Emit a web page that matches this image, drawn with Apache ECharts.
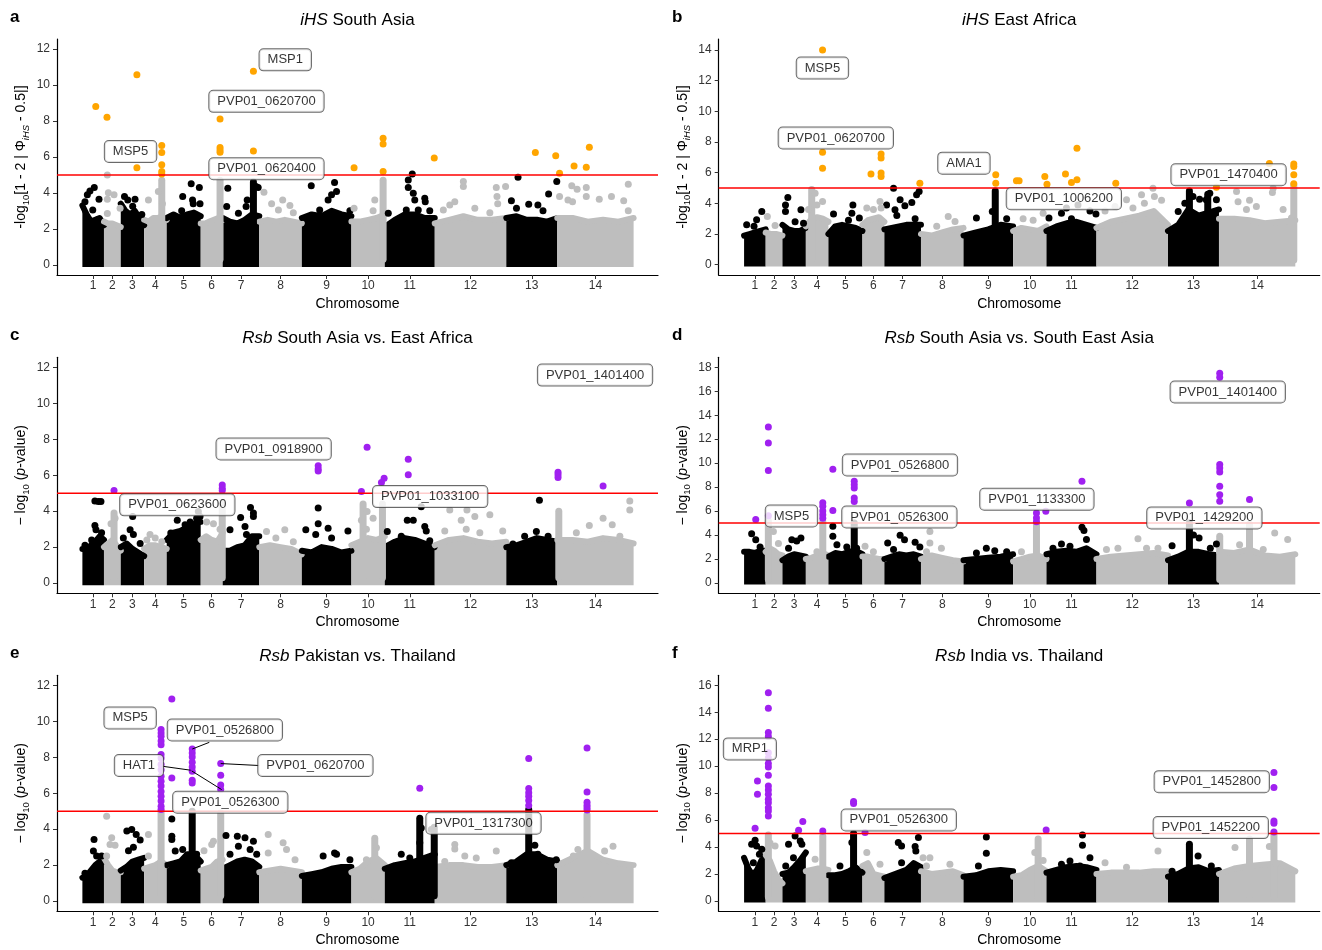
<!DOCTYPE html>
<html>
<head>
<meta charset="utf-8">
<title>Manhattan plots iHS / Rsb</title>
<script src="https://cdn.jsdelivr.net/npm/echarts@6.0.0/dist/echarts.min.js"></script>
<style>
  html, body { margin: 0; background: #fff; }
  #chart { width: 1322px; height: 950px; }
</style>
</head>
<body>
<div id="chart"></div>
<script>
// chromosome sizes in Mb
var chromNames = ['1','2','3','4','5','6','7','8','9','10','11','12','13','14'];
var chromLen = [1.08,0.84,1.17,1.13,1.70,1.10,1.83,2.13,2.48,1.67,2.50,3.58,2.55,3.82];

var ticks12 = [0,2,4,6,8,10,12];
var ticks14 = [0,2,4,6,8,10,12,14];
var ticks16 = [0,2,4,6,8,10,12,14,16];
var ticks18 = [0,2,4,6,8,10,12,14,16,18];

// bg* : top of the dense cloud, evenly spaced along each chromosome
// dots* : sparse points above the cloud [chr, fraction along chr, value]
// spikes* : tall narrow stacks of points [chr, fraction, top]
// hits* : points over the threshold [chr, fraction, value]
// labels* : gene labels [text, position Mb, value]

// ---- a: iHS South Asia
var bgA = [
  [3.3,2.8,2.4,2.5,2.6,2.2],[2.4,2.3,2.3,2.2,2.1],[3.4,3.0,2.8,3.0,2.6,2.2],[2.5,2.4,2.6,2.6,2.7,2.5],
  [2.6,2.8,2.6,2.8,2.9,2.7],[2.3,2.3,2.4,2.5,2.6,2.5],[2.6,2.4,2.3,2.5,2.8,2.7],[2.4,2.5,2.4,2.5,2.4,2.3],
  [2.6,2.8,2.7,3.0,2.8,2.7],[2.4,2.4,2.5,2.6,2.8],[2.1,2.5,2.8,2.8,2.6,2.6],[2.3,2.5,2.7,2.5,2.5,2.6],
  [2.6,2.7,2.5,2.5,2.4,2.6],[2.6,2.6,2.4,2.5,2.4,2.6]
];
var dotsA = [
  [1,0.12,3.5],[1,0.23,3.9],[1,0.35,4.1],[1,0.55,4.3],[1,0.77,3.65],[1,0.48,3.05],[1,0.71,2.5],
  [2,0.2,5.0],[2,0.26,4.0],[2,0.2,3.65],[2,0.6,3.9],[2,0.2,2.85],[2,0.96,3.15],
  [3,0.16,3.8],[3,0.3,3.6],[3,0.61,3.65],[3,0.51,3.25],[3,0.9,2.8],
  [4,0.19,3.6],[4,0.63,4.07],[4,0.81,3.4],
  [5,0.47,3.8],[5,0.72,4.5],[5,0.96,4.3],[5,0.76,3.6],[5,0.78,3.4],[5,0.98,3.4],[5,0.44,3.0],
  [7,0.14,4.26],[7,0.11,3.24],[7,0.43,2.87],[7,0.64,3.24],[7,0.67,3.6],[7,0.91,4.35],[7,0.97,4.3],
  [8,0.11,4.04],[8,0.29,3.4],[8,0.55,3.6],[8,0.45,3.05],[8,0.72,3.3],[8,0.8,2.9],
  [9,0.19,4.4],[9,0.66,4.57],[9,0.7,4.07],[9,0.6,3.9],[9,0.36,3.05],[9,0.53,3.6],[9,0.97,3.0],
  [10,0.08,3.15],[10,0.7,3.6],[10,0.65,3.0],
  [11,0.07,2.87],[11,0.47,4.72],[11,0.47,4.3],[11,0.55,5.05],[11,0.57,3.98],[11,0.6,3.6],[11,0.8,3.7],
  [11,0.81,3.5],[11,0.67,3.05],[11,0.43,3.05],[11,0.9,3.0],
  [12,0.12,3.05],[12,0.21,3.33],[12,0.28,3.5],[12,0.4,4.63],[12,0.4,4.35],[12,0.56,3.15],[12,0.86,4.3],
  [12,0.87,3.8],[12,0.88,3.4],[12,0.99,4.35],[12,0.77,2.9],
  [13,0.23,4.87],[13,0.1,3.56],[13,0.2,3.15],[13,0.44,3.37],[13,0.62,3.33],[13,0.83,3.94],[13,0.99,4.63],[13,0.72,3.0],
  [14,0.03,3.8],[14,0.19,4.4],[14,0.26,4.2],[14,0.14,3.6],[14,0.2,3.5],[14,0.38,4.3],[14,0.38,3.8],
  [14,0.55,3.65],[14,0.71,3.8],[14,0.87,3.56],[14,0.93,4.48],[14,0.93,3.0]
];
var spikesA = [[4,0.78,4.7],[6,0.88,4.7],[7,0.84,4.6],[10,0.95,4.7]];
var hitsA = [
  [1,0.62,8.8],[2,0.18,8.2],[3,0.69,10.57],[3,0.69,5.4],
  [4,0.78,6.63],[4,0.78,6.24],[4,0.78,5.56],[4,0.78,5.19],[4,0.78,5.05],
  [6,0.88,8.11],[6,0.88,6.52],[6,0.88,6.39],[6,0.88,6.26],
  [7,0.84,10.76],[7,0.84,6.33],
  [10,0.08,5.4],[10,0.95,7.04],[10,0.95,6.72],[10,0.95,5.19],[11,0.99,5.94],
  [13,0.57,6.24],[13,0.97,6.06],[14,0.03,5.09],[14,0.22,5.5],[14,0.38,5.43],[14,0.42,6.54]
];
var labelsA = [['MSP1',10.15,11.4],['PVP01_0620700',9.21,9.09],['MSP5',2.41,6.3],['PVP01_0620400',9.21,5.34]];

// ---- b: iHS East Africa
var bgB = [
  [1.9,2.0,2.1,2.2,2.3],[2.1,2.0,2.0,1.9],[2.6,2.3,2.2,2.2,2.4],[2.5,3.0,3.1,3.0,2.8],
  [2.0,2.5,2.6,2.5,2.4,2.2],[2.6,2.9,3.0,3.1,2.8],[2.3,2.4,2.5,2.6,2.6,2.6],[2.0,1.9,2.1,2.3,2.4],
  [1.9,2.1,2.3,2.6,2.5],[2.2,2.4,2.3,2.2,2.5],[2.2,2.5,2.7,2.8,2.6,2.4],[2.4,2.8,3.0,3.2,3.5,2.6],
  [2.2,2.6,3.6,3.2,3.4,3.6],[3.0,3.0,2.9,2.7,2.8,2.9]
];
var dotsB = [
  [1,0.12,2.6],[1,0.58,2.93],[1,0.82,3.47],[1,0.46,2.5],
  [2,0.1,3.15],[2,0.56,2.56],
  [3,0.13,3.9],[3,0.23,4.38],[3,0.13,3.47],[3,0.79,3.58],[3,0.54,2.8],[3,0.9,2.7],
  [4,0.41,4.66],[4,0.74,4.12],[4,0.49,3.9],[4,0.12,3.6],
  [5,0.15,3.3],[5,0.72,3.9],[5,0.69,3.36],[5,0.91,3.04],[5,0.59,2.9],
  [6,0.2,3.7],[6,0.5,3.6],[6,0.8,4.12],[6,0.85,3.7],
  [7,0.06,3.9],[7,0.25,4.99],[7,0.29,3.58],[7,0.43,4.23],[7,0.56,3.84],[7,0.75,4.06],[7,0.88,4.56],
  [7,0.95,4.77],[7,0.34,3.2],[7,0.84,3.0],
  [8,0.64,3.15],[8,0.8,2.82],[8,0.37,2.5],
  [9,0.58,3.47],[9,0.26,3.04],[9,0.87,3.0],
  [10,0.3,3.0],[10,0.6,2.9],[10,0.9,3.36],
  [11,0.05,3.04],[11,0.3,3.36],[11,0.4,3.7],[11,0.63,3.9],[11,0.87,3.5],[11,0.99,3.3],[11,0.5,3.0],
  [12,0.12,3.5],[12,0.26,3.8],[12,0.42,4.23],[12,0.63,4.56],[12,0.67,4.0],[12,0.79,4.99],[12,0.81,4.45],
  [12,0.91,4.2],[12,0.51,3.7],
  [13,0.2,3.47],[13,0.33,4.0],[13,0.49,4.45],[13,0.62,4.27],[13,0.75,4.23],[13,0.82,4.66],[13,0.95,4.23],
  [14,0.23,4.77],[14,0.25,4.1],[14,0.4,4.2],[14,0.49,3.8],[14,0.7,4.7],[14,0.71,4.99],[14,0.84,3.6],
  [14,0.95,3.04],[14,0.36,3.6]
];
var spikesB = [[4,0.26,4.9],[9,0.64,4.8],[13,0.42,4.8],[13,0.78,4.6],[14,0.98,5.2]];
var hitsB = [
  [4,0.74,13.99],[4,0.74,7.33],[4,0.74,6.29],
  [6,0.39,5.92],[6,0.85,7.22],[6,0.85,6.96],[6,0.85,5.97],[6,0.85,5.75],
  [7,0.97,5.31],[9,0.65,5.86],[9,0.65,5.31],
  [10,0.1,5.47],[10,0.18,5.47],[10,0.95,5.75],[11,0.01,5.25],
  [11,0.38,5.92],[11,0.5,5.36],[11,0.61,7.59],[11,0.61,5.53],
  [12,0.27,5.31],[13,0.95,5.05],
  [14,0.66,6.6],[14,0.98,6.57],[14,0.98,6.4],[14,0.98,5.86],[14,0.98,5.27]
];
var labelsB = [['MSP5',3.92,12.82],['PVP01_0620700',4.59,8.26],['AMA1',11.0,6.62],['PVP01_1006200',16.0,4.3],['PVP01_1470400',24.24,5.86]];

// ---- c: Rsb South Asia vs. East Africa
var bgC = [
  [1.9,1.9,2.1,2.3,2.6,2.4],[2.0,2.2,2.4,2.1,1.8],[2.0,2.2,1.9,1.7,1.5],[1.9,2.1,2.1,2.0,1.9],
  [2.4,2.8,2.9,3.1,3.3,3.4],[2.4,2.6,2.4,2.3,2.8],[1.8,1.8,2.0,2.1,2.6,2.6],[2.0,2.1,2.0,1.9,1.6],
  [1.8,1.7,2.0,1.9,1.7,1.8],[2.1,2.3,2.5,2.4,2.6],[2.0,2.3,2.5,2.4,2.2,2.0],[2.1,2.4,2.5,2.3,2.2,2.3],
  [2.0,2.1,2.3,2.5,2.4,2.3],[2.4,2.4,2.3,2.5,2.4,2.2]
];
var dotsC = [
  [1,0.58,4.57],[1,0.74,4.54],[1,0.86,4.54],[1,0.58,3.2],[1,0.63,2.96],[1,0.43,2.4],[1,0.12,2.1],[1,0.89,2.8],
  [2,0.42,3.3],[2,0.66,3.6],
  [3,0.11,2.5],[3,0.4,2.96],[3,0.54,2.7],[3,0.83,2.2],[3,0.51,3.7],
  [4,0.26,2.7],[4,0.49,2.5],[4,0.12,2.4],[4,0.78,2.3],
  [5,0.12,2.78],[5,0.31,3.5],[5,0.54,3.24],[5,0.69,3.4],[5,0.88,3.6],[5,0.98,3.7],[5,0.93,3.98],
  [6,0.27,3.4],[6,0.58,3.3],[6,0.88,3.0],
  [7,0.2,2.96],[7,0.49,3.65],[7,0.61,3.15],[7,0.76,4.2],[7,0.84,3.9],[7,0.84,3.7],[7,0.65,2.7],
  [8,0.17,2.87],[8,0.39,2.5],[8,0.6,2.96],[8,0.8,2.3],
  [9,0.33,4.17],[9,0.33,3.3],[9,0.08,2.96],[9,0.28,2.7],[9,0.53,3.05],[9,0.6,2.5],[9,0.93,2.9],
  [10,0.47,3.98],[10,0.3,3.5],[10,0.65,3.6],[10,0.45,3.0],
  [11,0.05,2.87],[11,0.45,3.5],[11,0.57,3.5],[11,0.8,3.15],[11,0.83,2.9],[11,0.9,2.35],[11,0.33,2.6],[11,0.73,4.25],
  [12,0.21,4.07],[12,0.37,3.5],[12,0.45,4.07],[12,0.56,3.7],[12,0.77,3.8],[12,0.44,3.0],[12,0.63,2.8],
  [12,0.95,2.9],[12,0.14,2.9],
  [13,0.65,4.6],[13,0.59,2.87],[13,0.36,2.6],[13,0.13,2.17],[13,0.82,2.6],
  [14,0.25,2.8],[14,0.42,3.2],[14,0.6,3.6],[14,0.72,3.24],[14,0.95,4.57],[14,0.95,4.07],[14,0.82,2.6]
];
var spikesC = [[2,0.6,3.9],[6,0.98,4.5],[10,0.35,4.4],[10,0.93,4.4],[14,0.02,4.0]];
var hitsC = [
  [2,0.6,5.15],[6,0.98,5.46],[6,0.98,5.28],[6,0.98,5.15],
  [9,0.33,6.52],[9,0.33,6.35],[9,0.33,6.24],
  [10,0.3,5.09],[10,0.47,7.55],[10,0.9,5.6],[10,0.98,5.83],
  [11,0.47,6.89],[11,0.47,6.02],
  [14,0.01,6.17],[14,0.01,6.02],[14,0.01,5.87],[14,0.6,5.4]
];
var labelsC = [['PVP01_1401400',25.65,11.57],['PVP01_0918900',9.57,7.46],['PVP01_0623600',4.75,4.35],['PVP01_1033100',17.4,4.81]];

// ---- d: Rsb South Asia vs. South East Asia
var bgD = [
  [2.6,2.6,2.5,2.7,2.7],[2.6,2.9,2.7,2.4,2.3],[1.9,2.2,2.4,2.3,2.2],[2.0,2.1,2.3,2.5,2.3],
  [2.2,2.5,2.4,2.6,2.7,2.4],[2.2,2.2,2.1,2.0,2.0],[2.0,2.2,2.4,2.3,2.4,2.2],[2.0,2.3,2.1,1.9,1.8],
  [1.9,2.0,2.1,2.2,2.4],[1.8,2.0,2.2,2.3,2.0],[2.4,2.6,2.7,2.6,2.9,2.4],[2.0,2.2,2.3,2.4,2.5,2.3],
  [1.9,2.2,2.6,2.6,2.4,2.3],[2.6,2.5,2.8,2.3,2.2,2.4]
];
var dotsD = [
  [1,0.35,4.1],[1,0.54,3.6],[1,0.74,3.0],
  [2,0.46,4.3],[2,0.76,3.3],
  [3,0.26,2.9],[3,0.4,3.6],[3,0.61,3.5],[3,0.79,3.76],
  [4,0.49,2.6],
  [5,0.13,4.73],[5,0.13,3.9],[5,0.25,3.2],[5,0.54,3.0],[5,0.83,2.9],
  [6,0.12,3.06],[6,0.5,2.6],
  [7,0.09,3.34],[7,0.43,3.98],[7,0.55,3.6],[7,0.84,3.4],[7,0.97,3.0],[7,0.25,2.8],
  [8,0.21,4.3],[8,0.21,3.34],[8,0.48,2.9],[8,0.13,2.6],
  [9,0.46,2.9],[9,0.63,2.7],[9,0.87,2.6],[9,0.26,2.5],
  [10,0.25,2.6],
  [11,0.3,3.26],[11,0.47,3.06],[11,0.71,4.65],[11,0.75,4.37],[11,0.8,3.62],[11,0.13,2.9],
  [12,0.3,2.9],[12,0.58,3.7],[12,0.7,2.9],[12,0.86,2.9],[12,0.14,2.8],
  [13,0.08,3.1],[13,0.5,4.0],[13,0.61,3.75],[13,0.83,2.9],[13,0.95,3.26],
  [14,0.27,3.2],[14,0.73,4.17],[14,0.9,3.62],[14,0.58,2.8]
];
var spikesD = [[2,0.16,5.2],[4,0.75,5.1],[5,0.76,5.0],[10,0.7,4.9],[13,0.42,5.0],[14,0.01,3.9],[14,0.4,4.9]];
var hitsD = [
  [1,0.54,5.29],
  [2,0.16,13.02],[2,0.16,11.69],[2,0.16,9.38],[2,0.16,5.6],
  [4,0.75,6.7],[4,0.75,6.4],[4,0.75,6.0],[4,0.75,5.7],[4,0.75,5.4],
  [5,0.13,9.5],[5,0.13,6.04],
  [5,0.76,8.49],[5,0.76,8.2],[5,0.76,7.93],[5,0.76,7.1],[5,0.76,6.8],
  [10,0.7,5.84],[10,0.7,5.43],[10,0.7,5.1],[10,0.98,5.98],
  [11,0.71,8.49],[13,0.42,6.68],
  [14,0.01,17.5],[14,0.01,17.17],[14,0.01,9.88],[14,0.01,9.6],[14,0.01,9.27],[14,0.01,8.07],
  [14,0.01,7.37],[14,0.01,6.82],[14,0.4,6.96]
];
var labelsD = [['MSP5',2.37,5.59],['PVP01_0526800',7.8,9.85],['PVP01_0526300',7.77,5.51],['PVP01_1133300',14.65,6.98],
  ['PVP01_1401400',24.2,15.94],['PVP01_1429200',23.03,5.43]];

// ---- e: Rsb Pakistan vs. Thailand
var bgE = [
  [1.3,1.4,1.7,2.0,2.2,2.2],[2.4,2.0,1.7,1.6,1.6],[1.7,1.9,2.2,2.3,2.4],[1.8,1.9,2.0,2.2,2.0],
  [2.0,2.1,2.2,2.6,2.6,2.2],[1.7,1.8,1.9,2.2,2.3],[1.8,2.0,2.2,2.3,2.2,1.9],[1.6,1.7,1.8,1.7,1.6],
  [1.4,1.5,1.6,1.8,1.9,1.9],[1.6,1.8,2.2,2.4,2.0],[1.8,2.0,2.1,2.2,2.4,2.6],[1.9,2.0,2.0,1.9,1.9,2.0],
  [2.0,2.2,2.6,2.6,2.3,2.2],[2.0,2.4,2.8,2.3,2.1,2.0]
];
var dotsE = [
  [1,0.54,3.43],[1,0.51,2.78],[1,0.66,2.5],[1,0.89,2.5],[1,0.12,1.54],
  [2,0.16,4.72],[2,0.46,3.52],[2,0.36,3.15],[2,0.66,3.1],[2,0.16,2.5],
  [3,0.26,3.9],[3,0.47,3.98],[3,0.66,3.7],[3,0.54,3.0],[3,0.83,3.4],[3,0.33,2.8],
  [4,0.19,2.5],[4,0.19,3.7],
  [5,0.15,4.57],[5,0.15,3.6],[5,0.15,3.43],[5,0.25,2.78],[5,0.47,2.87],[5,0.88,2.6],
  [6,0.15,2.8],[6,0.5,3.15],[6,0.58,3.33],
  [7,0.09,3.65],[7,0.2,2.6],[7,0.4,3.6],[7,0.43,3.05],[7,0.61,3.52],[7,0.84,3.33],[7,0.75,2.87],[7,0.93,2.6],
  [8,0.21,3.7],[8,0.21,2.68],[8,0.56,3.24],[8,0.64,2.87],[8,0.84,2.3],
  [9,0.43,2.5],[9,0.66,2.68],[9,0.7,2.6],[9,0.97,2.3],
  [10,0.75,2.96],[10,0.45,2.3],
  [11,0.73,4.07],[11,0.7,3.24],[11,0.33,2.6],[11,0.5,2.4],[11,0.93,3.98],
  [12,0.28,3.15],[12,0.28,2.9],[12,0.42,2.5],[12,0.58,2.4],[12,0.86,2.78],[12,0.14,2.2],
  [13,0.1,2.13],[13,0.56,3.1],[13,0.98,2.3],[13,0.62,2.6],
  [14,0.27,2.87],[14,0.62,2.78],[14,0.73,3.05],[14,0.21,2.5]
];
var spikesE = [[4,0.75,5.0],[5,0.75,5.0],[6,0.91,4.9],[10,0.7,3.5],[11,0.7,4.6],[11,0.99,4.1],[13,0.44,5.1],[14,0.39,4.8]];
var hitsE = [
  [4,0.75,9.54],[4,0.75,9.35],[4,0.75,9.17],[4,0.75,8.9],[4,0.75,8.7],[4,0.75,8.15],[4,0.75,7.96],[4,0.75,7.6],
  [4,0.75,7.3],[4,0.75,6.94],[4,0.75,6.67],[4,0.75,6.4],[4,0.75,6.1],[4,0.75,5.83],[4,0.75,5.56],[4,0.75,5.28],[4,0.75,5.09],
  [5,0.15,11.24],[5,0.15,6.85],
  [5,0.75,8.46],[5,0.75,8.24],[5,0.75,8.02],[5,0.75,7.72],[5,0.75,7.46],[5,0.75,7.22],[5,0.75,6.72],[5,0.75,6.57],
  [6,0.91,7.65],[6,0.91,7.0],[6,0.91,6.46],[6,0.91,6.2],
  [11,0.7,6.28],
  [13,0.44,7.93],[13,0.44,6.26],[13,0.44,6.02],[13,0.44,5.83],[13,0.44,5.6],[13,0.44,5.31],
  [14,0.39,8.52],[14,0.39,6.07],[14,0.39,5.5],[14,0.39,5.33],[14,0.39,5.19],[14,0.39,5.06]
];
var labelsE = [['MSP5',2.39,10.19],['PVP01_0526800',7.13,9.52],['HAT1',2.83,7.54],['PVP01_0620700',11.66,7.54],
  ['PVP01_0526300',7.4,5.5],['PVP01_1317300',20.07,4.33]];
// label-to-point segments [x0, y0, x1, y1]
var linksE = [[6.35,8.83,5.5,8.46],[4.0,7.5,5.42,7.28],[6.97,6.2,5.47,7.24],[8.85,7.54,6.92,7.65]];

// ---- f: Rsb India vs. Thailand
var bgF = [
  [3.2,2.4,1.9,2.3,3.0,3.3],[3.4,3.0,2.2,1.6,1.3],[2.0,2.1,2.5,3.0,3.6],[2.2,2.3,2.4,2.4,2.3],
  [1.9,1.9,2.0,2.2,2.5,2.1],[2.6,2.8,2.0,1.9,1.8],[1.7,1.9,2.1,2.3,2.8,2.5],[2.2,2.0,2.1,2.2,1.9],
  [1.8,1.9,2.2,2.3,2.2],[1.8,1.9,2.3,2.6,2.2],[2.1,2.3,2.5,2.6,2.5,2.3],[2.0,2.1,2.1,2.1,2.2,2.2],
  [1.8,2.0,2.4,2.5,2.2,2.3],[2.0,2.4,2.6,2.7,2.8,2.2]
];
var dotsF = [
  [1,0.35,4.2],[1,0.51,4.5],[1,0.58,4.08],[1,0.71,3.46],[1,0.82,3.83],[1,0.43,2.84],
  [2,0.56,4.08],[2,0.26,4.3],
  [3,0.14,2.6],[3,0.54,4.82],[3,0.76,4.45],[3,0.83,4.2],[3,0.26,4.2],[3,0.47,3.2],
  [4,0.41,3.1],
  [5,0.34,2.6],[5,0.69,4.33],
  [6,0.2,3.59],[6,0.8,2.72],
  [7,0.38,4.33],[7,0.47,4.08],[7,0.47,2.84],[7,0.84,4.03],[7,0.86,3.7],[7,0.93,4.7],
  [8,0.05,3.2],[8,0.21,3.2],[8,0.13,2.6],[8,0.68,2.72],
  [9,0.46,4.75],[9,0.46,3.54],[9,0.3,2.6],
  [10,0.65,3.59],[10,0.9,3.0],
  [11,0.3,2.72],[11,0.47,2.97],[11,0.72,4.9],[11,0.72,4.13],[11,0.87,3.2],[11,0.67,2.6],
  [12,0.12,2.84],[12,0.86,3.7],[12,0.42,2.5],
  [13,0.08,2.2],[13,0.59,3.34],[13,0.85,2.6],
  [14,0.21,3.96],[14,0.66,4.03],[14,0.75,2.8]
];
var spikesF = [[2,0.16,4.9],[4,0.75,4.8],[5,0.74,5.0],[10,0.75,4.6],[13,0.42,4.2],[14,0.4,4.6],[14,0.72,5.0]];
var hitsF = [
  [1,0.51,5.39],[1,0.62,8.9],[1,0.62,7.91],
  [2,0.16,15.45],[2,0.16,14.3],[2,0.16,12.5],[2,0.16,12.2],[2,0.16,11.0],[2,0.16,10.6],[2,0.16,10.2],[2,0.16,9.94],
  [2,0.16,9.32],[2,0.16,8.53],[2,0.16,8.23],[2,0.16,7.91],[2,0.16,7.54],[2,0.16,7.29],[2,0.16,6.92],[2,0.16,6.68],[2,0.16,6.3],
  [3,0.69,5.24],[3,0.87,5.89],[4,0.75,5.19],[5,0.74,7.37],[5,0.74,7.22],[6,0.12,5.07],[10,0.99,5.27],
  [14,0.72,9.52],[14,0.72,8.41],[14,0.72,5.93],[14,0.72,5.76],[14,0.72,5.12]
];
var labelsF = [['MRP1',0.29,11.28],['PVP01_0526300',7.74,6.01],['PVP01_1452800',23.4,8.85],['PVP01_1452200',23.35,5.44]];

var THRESHOLD = 5;

// ---------------------------------------------------------------
var FONT = '"Liberation Sans", Arial, Helvetica, sans-serif';
var ORANGE = '#FFA500', PURPLE = '#A020F0';
var X_MIN = -1.27, X_MAX = 28.8;

var chromStart = [];
var acc = 0;
chromLen.forEach(function (l) { chromStart.push(acc); acc += l; });
var chromMid = chromLen.map(function (l, i) { return chromStart[i] + l / 2; });

function gx(chr, frac) { return chromStart[chr - 1] + frac * chromLen[chr - 1]; }
function shade(chr) { return chr % 2 ? '#000000' : '#bebebe'; }

var ihsName = '-log{s|10}[1 - 2 | Φ{si|iHS} - 0.5|]';
var rsbName = '− log{s|10} ({i|p}-value)';

var panels = [
  {tag: 'a', title: '{i|iHS} South Asia', yName: ihsName, ymin: -0.57, ymax: 12.56, ticks: ticks12,
    bg: bgA, dots: dotsA, spikes: spikesA, hits: hitsA, hit: ORANGE, labels: labelsA, links: []},
  {tag: 'b', title: '{i|iHS} East Africa', yName: ihsName, ymin: -0.67, ymax: 14.71, ticks: ticks14,
    bg: bgB, dots: dotsB, spikes: spikesB, hits: hitsB, hit: ORANGE, labels: labelsB, links: []},
  {tag: 'c', title: '{i|Rsb} South Asia vs. East Africa', yName: rsbName, ymin: -0.57, ymax: 12.56, ticks: ticks12,
    bg: bgC, dots: dotsC, spikes: spikesC, hits: hitsC, hit: PURPLE, labels: labelsC, links: []},
  {tag: 'd', title: '{i|Rsb} South Asia vs. South East Asia', yName: rsbName, ymin: -0.86, ymax: 18.83, ticks: ticks18,
    bg: bgD, dots: dotsD, spikes: spikesD, hits: hitsD, hit: PURPLE, labels: labelsD, links: []},
  {tag: 'e', title: '{i|Rsb} Pakistan vs. Thailand', yName: rsbName, ymin: -0.57, ymax: 12.56, ticks: ticks12,
    bg: bgE, dots: dotsE, spikes: spikesE, hits: hitsE, hit: PURPLE, labels: labelsE, links: linksE},
  {tag: 'f', title: '{i|Rsb} India vs. Thailand', yName: rsbName, ymin: -0.77, ymax: 16.74, ticks: ticks16,
    bg: bgF, dots: dotsF, spikes: spikesF, hits: hitsF, hit: PURPLE, labels: labelsF, links: []}
];

var colLeft = [57, 718.7];
var rowTop = [39, 357.3, 675.3];
var PW = 601, PH = 236;

var grids = [], xAxes = [], yAxes = [], series = [], graphics = [];

panels.forEach(function (p, k) {
  var left = colLeft[k % 2], top = rowTop[Math.floor(k / 2)];
  grids.push({left: left, top: top, width: PW, height: PH, outerBoundsMode: 'none'});

  xAxes.push({
    type: 'value', gridIndex: k, min: X_MIN, max: X_MAX,
    name: 'Chromosome', nameLocation: 'middle', nameGap: 22,
    nameTextStyle: {fontSize: 14, color: '#000', fontFamily: FONT},
    axisLine: {onZero: false, lineStyle: {color: '#000', width: 1.2}},
    axisTick: {length: 4, lineStyle: {color: '#333'}, customValues: chromMid},
    axisLabel: {
      customValues: chromMid, margin: 5, fontSize: 12, color: '#333', fontFamily: FONT,
      formatter: function (v) {
        for (var i = 0; i < chromMid.length; i++) {
          if (Math.abs(chromMid[i] - v) < 1e-6) return chromNames[i];
        }
        return '';
      }
    },
    splitLine: {show: false}
  });

  yAxes.push({
    type: 'value', gridIndex: k, min: p.ymin, max: p.ymax,
    name: p.yName, nameLocation: 'middle', nameRotate: 90, nameGap: 26,
    nameTextStyle: {
      fontSize: 14, color: '#000', fontFamily: FONT, lineHeight: 16,
      rich: {
        s: {fontSize: 9.5, fontFamily: FONT, color: '#000', verticalAlign: 'bottom', lineHeight: 20},
        si: {fontSize: 9.5, fontFamily: FONT, color: '#000', fontStyle: 'italic', verticalAlign: 'bottom', lineHeight: 20},
        i: {fontSize: 14, fontFamily: FONT, color: '#000', fontStyle: 'italic'}
      }
    },
    axisLine: {show: true, onZero: false, lineStyle: {color: '#000', width: 1.2}},
    axisTick: {show: true, length: 4, lineStyle: {color: '#333'}, customValues: p.ticks},
    axisLabel: {customValues: p.ticks, margin: 7, fontSize: 12, color: '#333', fontFamily: FONT},
    splitLine: {show: false}
  });

  var ax = {xAxisIndex: k, yAxisIndex: k, silent: true, animation: false};

  // dense cloud per chromosome
  p.bg.forEach(function (env, c) {
    var n = env.length;
    var data = env.map(function (h, i) { return [chromStart[c] + chromLen[c] * i / (n - 1), h]; });
    series.push(Object.assign({
      type: 'line', z: 1, data: data, symbol: 'none',
      lineStyle: {color: shade(c + 1), width: 6, cap: 'round', join: 'round'},
      areaStyle: {color: shade(c + 1), opacity: 1, origin: -0.12}
    }, ax));
  });

  // narrow stacks of points
  p.spikes.forEach(function (s) {
    var x = gx(s[0], s[1]);
    series.push(Object.assign({
      type: 'line', z: 1, data: [[x, 0.3], [x, s[2]]], symbol: 'none',
      lineStyle: {color: shade(s[0]), width: 7, cap: 'round'}
    }, ax));
  });

  // sparse points above the cloud
  [1, 0].forEach(function (odd) {
    series.push(Object.assign({
      type: 'scatter', z: 2, symbolSize: 7,
      itemStyle: {color: odd ? '#000000' : '#bebebe', opacity: 1},
      data: p.dots.filter(function (d) { return d[0] % 2 === odd; })
        .map(function (d) { return [gx(d[0], d[1]), d[2]]; })
    }, ax));
  });

  // points over the threshold
  series.push(Object.assign({
    type: 'scatter', z: 2, symbolSize: 7, itemStyle: {color: p.hit, opacity: 1},
    data: p.hits.map(function (d) { return [gx(d[0], d[1]), d[2]]; })
  }, ax));

  // threshold line
  series.push(Object.assign({
    type: 'line', z: 3, symbol: 'none', data: [[X_MIN, THRESHOLD], [X_MAX, THRESHOLD]],
    lineStyle: {color: '#FF0000', width: 1.5}
  }, ax));

  p.links.forEach(function (l) {
    series.push(Object.assign({
      type: 'line', z: 4, symbol: 'none', data: [[l[0], l[1]], [l[2], l[3]]],
      lineStyle: {color: '#000', width: 1}
    }, ax));
  });

  // gene labels
  series.push(Object.assign({
    type: 'scatter', z: 5, symbolSize: 0,
    data: p.labels.map(function (l) { return {name: l[0], value: [l[1], l[2]]}; }),
    label: {
      show: true, position: 'inside', formatter: '{b}', color: '#000', fontSize: 13, fontFamily: FONT,
      backgroundColor: '#fff', borderColor: '#444', borderWidth: 1, borderRadius: 4, padding: [4, 8, 4, 8]
    }
  }, ax));

  // panel letter and title
  graphics.push({
    type: 'text', left: (k % 2 ? 672 : 10), top: top - 30, silent: true,
    style: {text: p.tag, fontSize: 17, fontWeight: 'bold', fontFamily: FONT, fill: '#000'}
  });
  graphics.push({
    type: 'text', x: left + PW / 2, y: top - 19, silent: true,
    style: {
      text: p.title, fontSize: 17, fontFamily: FONT, fill: '#000', align: 'center', verticalAlign: 'middle',
      rich: {i: {fontSize: 17, fontFamily: FONT, fontStyle: 'italic', fill: '#000'}}
    }
  });
});

var myChart = echarts.init(document.getElementById('chart'), null, {renderer: 'canvas'});
myChart.setOption({
  backgroundColor: '#fff',
  animation: false,
  grid: grids,
  xAxis: xAxes,
  yAxis: yAxes,
  series: series,
  graphic: graphics
});
</script>
</body>
</html>
